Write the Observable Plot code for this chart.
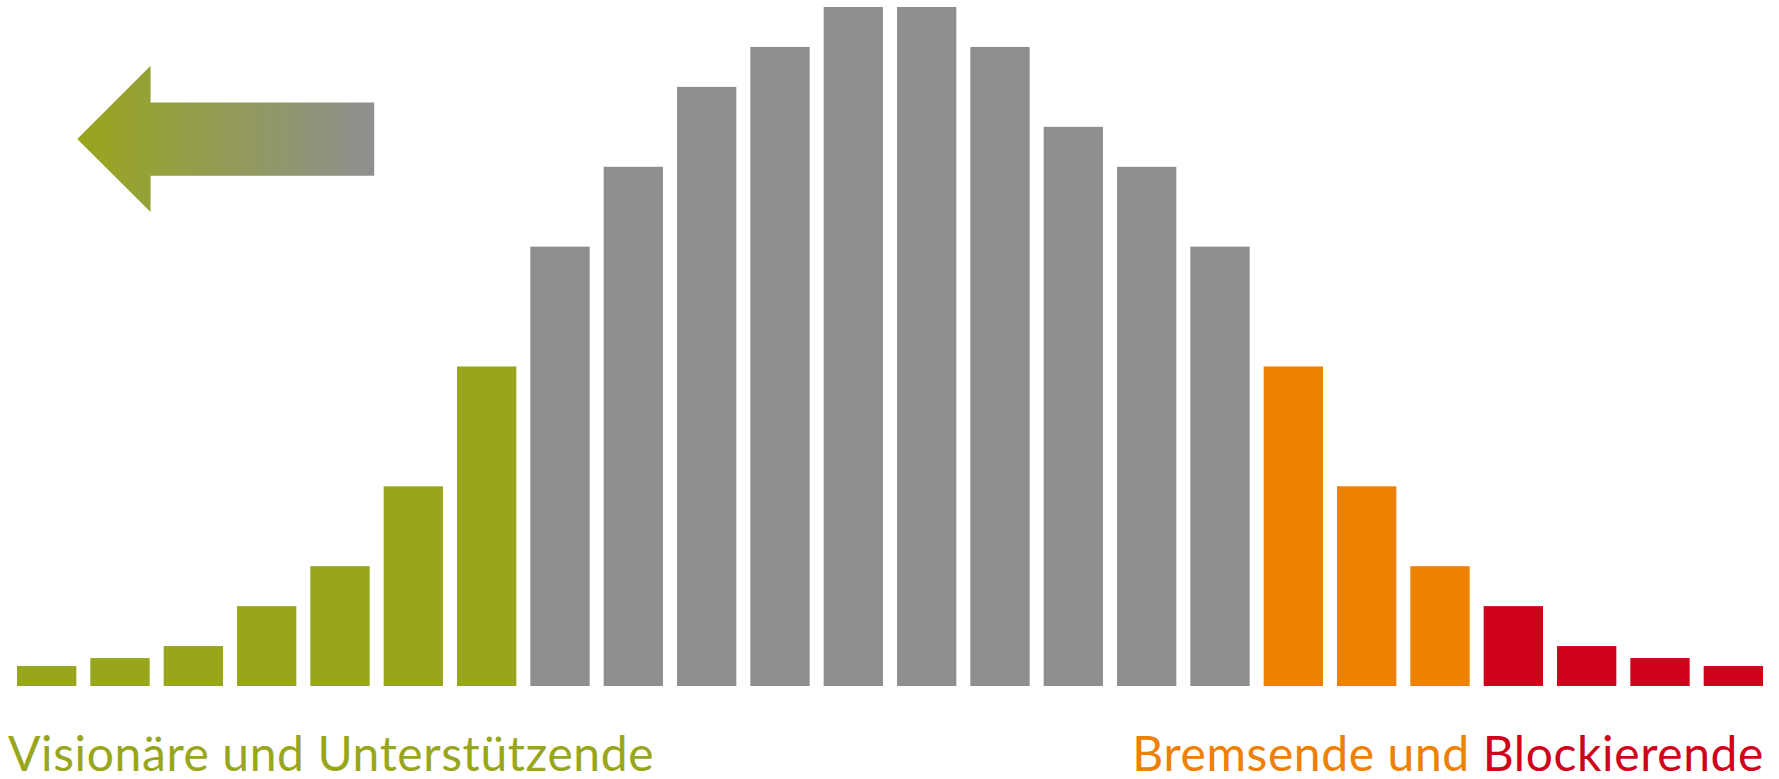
<!DOCTYPE html>
<html>
<head>
<meta charset="utf-8">
<script src="https://cdn.jsdelivr.net/npm/d3@7"></script>
<script src="https://cdn.jsdelivr.net/npm/@observablehq/plot@0.6"></script>
<style>
  html, body { margin: 0; padding: 0; background: #fff; overflow: hidden; }
  #labels {
    width: 1779px; box-sizing: border-box;
    margin-top: 43px; height: 40px;
    display: flex; justify-content: space-between;
    font-family: Lato, "Open Sans", sans-serif;
    font-size: 48px; line-height: 40px; letter-spacing: 0.6px;
    padding-left: 8px; padding-right: 15px;
    white-space: pre;
  }
</style>
</head>
<body>
<div id="chart"></div>
<div id="labels"></div>
<script>
// ---- data ----
const positions = d3.range(1, 25);
const values = [0.5, 0.7, 1, 2, 3, 5, 8, 11, 13, 15, 16, 17, 17, 16, 14, 13, 11, 8, 5, 3, 2, 1, 0.7, 0.5];
const groups = [
  "Visionäre","Visionäre","Visionäre","Visionäre","Visionäre","Visionäre","Visionäre",
  "Mitte","Mitte","Mitte","Mitte","Mitte","Mitte","Mitte","Mitte","Mitte","Mitte",
  "Bremsende","Bremsende","Bremsende",
  "Blockierende","Blockierende","Blockierende","Blockierende"
];
const groupNames = ["Visionäre", "Mitte", "Bremsende", "Blockierende"];
const groupColors = ["#98a61b", "#8e8f91", "#ee8002", "#d0021b"];
const leftLabel = "Visionäre und Unterstützende";
const rightLabelParts = ["Bremsende und ", "Blockierende"];

// arrow outline in chart units (x: bar positions, y: value units)
const arrowX = [1.91, 2.91, 2.91, 5.96, 5.96, 2.91, 2.91, 1.91];
const arrowY = [13.71, 15.54, 14.62, 14.62, 12.79, 12.79, 11.88, 13.71];

const bars = positions.map((p, i) => ({pos: p, value: values[i], group: groups[i]}));
const arrow = arrowX.map((x, i) => ({x, y: arrowY[i]}));

const defs = () => {
  const d = d3.create("svg:defs");
  const g = d.append("linearGradient").attr("id", "arrowGrad").attr("x1", "0").attr("x2", "1").attr("y1", "0").attr("y2", "0");
  g.append("stop").attr("offset", "0%").attr("stop-color", groupColors[0]);
  g.append("stop").attr("offset", "100%").attr("stop-color", groupColors[1]);
  return d.node();
};

const chart = Plot.plot({
  width: 1779,
  height: 690,
  marginLeft: 10,
  marginRight: 9,
  marginTop: 7,
  marginBottom: 4,
  x: {domain: [1, 25], axis: null},
  y: {domain: [0, 17], axis: null},
  color: {domain: groupNames, range: groupColors},
  marks: [
    defs,
    Plot.rectY(bars, {x: "pos", y: "value", interval: 1, fill: "group", insetLeft: 7, insetRight: 7}),
    Plot.line(arrow, {x: "x", y: "y", fill: "url(#arrowGrad)", stroke: "none"})
  ]
});
document.getElementById("chart").append(chart);

const labels = d3.select("#labels");
labels.append("span").style("color", groupColors[0]).text(leftLabel);
const r = labels.append("span");
r.append("span").style("color", groupColors[2]).text(rightLabelParts[0]);
r.append("span").style("color", groupColors[3]).text(rightLabelParts[1]);
</script>
</body>
</html>
